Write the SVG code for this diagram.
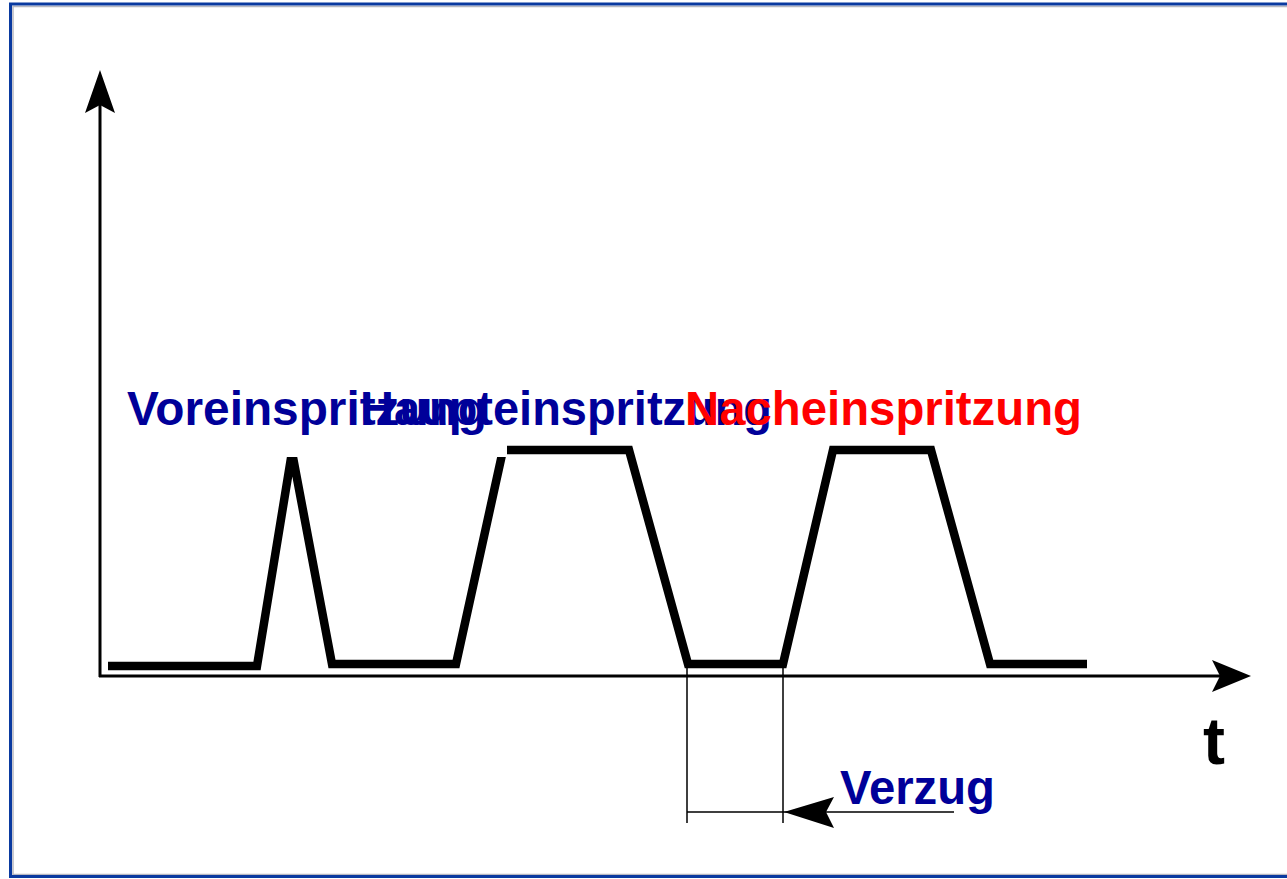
<svg xmlns="http://www.w3.org/2000/svg" width="1287" height="879" viewBox="0 0 1287 879">
<style>
.lbl{font-family:"Liberation Sans",Arial,sans-serif;font-weight:bold;font-size:48px}
.blue{fill:#000099}
.red{fill:#ff0000}
.axis{stroke:#000;stroke-width:3;fill:none}
.thin{stroke:#000;stroke-width:1.5;fill:none}
.sig{stroke:#000;stroke-width:8.5;fill:none;stroke-linejoin:miter}
</style>
<rect x="0" y="0" width="1287" height="879" fill="#fff"/>
<g id="frame">
<path d="M1287 6.5 H13 V874.5 H1287" fill="none" stroke="#b8b8c0" stroke-width="1.5"/>
<path d="M1287 4 H10.5 V876.5 H1287" fill="none" stroke="#0a3aa0" stroke-width="3"/>
</g>
<g id="signal">
<path class="sig" d="M108 666 H257 L292 452 L332 664 H456 L503 450 H629 L688 664 H783 L833 450 H931 L990 664 H1087"/>
<rect x="120" y="380" width="387" height="77" fill="#fff"/>
</g>
<g id="connectors">
<path class="axis" d="M100 677 V100"/>
<polygon points="100,70 115,113 100,105 85,113" fill="#000"/>
<path class="axis" d="M99 676 H1220"/>
<polygon points="1251,676 1212,660 1220,676 1212,692" fill="#000"/>
<path class="thin" d="M687 664 V823 M783 664 V823 M687 812 H954"/>
<polygon points="784,812 834,797 826,812 834,828" fill="#000"/>
</g>
<g id="label-vor"><text class="lbl blue" x="127" y="425" textLength="360" lengthAdjust="spacingAndGlyphs">Voreinspritzung</text></g>
<g id="label-haupt"><text class="lbl blue" x="360" y="425" textLength="412" lengthAdjust="spacingAndGlyphs">Haupteinspritzung</text></g>
<g id="label-nach"><text class="lbl red" x="685" y="425" textLength="397" lengthAdjust="spacingAndGlyphs">Nacheinspritzung</text></g>
<g id="label-t"><text x="1203" y="764" style="font-family:'Liberation Sans',Arial,sans-serif;font-weight:bold;font-size:66px" fill="#000">t</text></g>
<g id="label-verzug"><text class="lbl blue" x="840" y="804" textLength="155" lengthAdjust="spacingAndGlyphs">Verzug</text></g>
</svg>
